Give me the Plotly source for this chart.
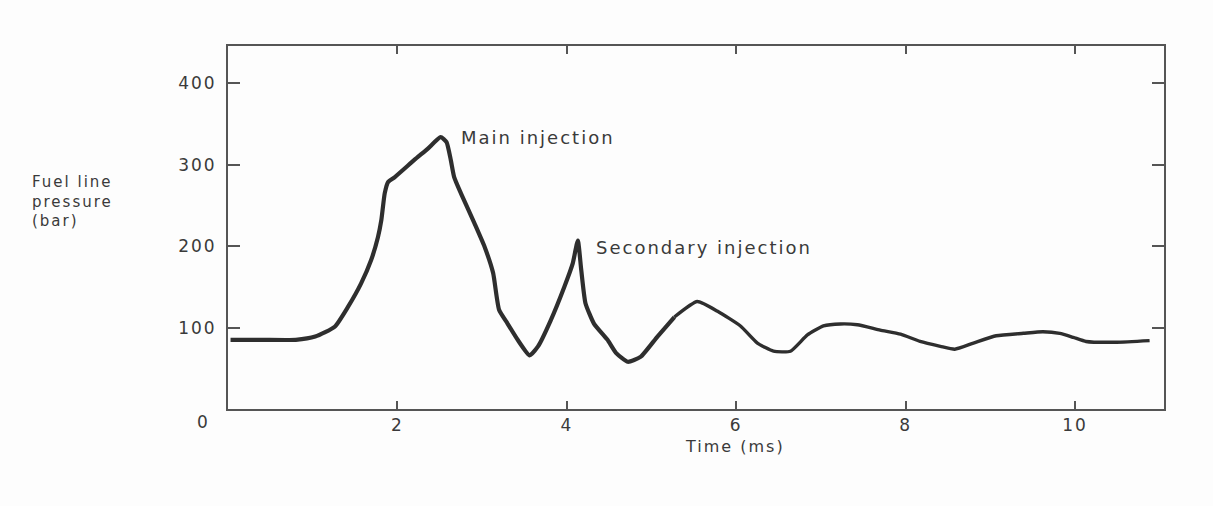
import plotly.graph_objects as go

# Fuel line pressure trace (time in ms, pressure in bar)
time_ms = [0.03, 0.4, 0.8, 1.03, 1.26, 1.42, 1.57, 1.69, 1.77, 1.81, 1.85, 1.89,
           1.97, 2.20, 2.36, 2.51, 2.58, 2.63, 2.67, 2.75, 2.91, 3.03, 3.13, 3.20,
           3.30, 3.42, 3.56, 3.66, 3.81, 3.97, 4.07, 4.13, 4.17, 4.22, 4.32, 4.48,
           4.58, 4.72, 4.87, 5.07, 5.27, 5.54, 5.78, 6.05, 6.25, 6.44, 6.64, 6.84,
           7.03, 7.23, 7.43, 7.70, 7.94, 8.17, 8.41, 8.58, 8.80, 9.07, 9.39, 9.62,
           9.82, 9.98, 10.13, 10.49, 10.88]
pressure_bar = [85, 85, 85, 89, 101, 126, 154, 183, 211, 232, 265, 279,
                285, 306, 320, 334, 328, 306, 285, 265, 228, 199, 167, 122,
                105, 85, 66, 77, 109, 150, 179, 207, 171, 130, 105, 85,
                69, 58, 64, 89, 113, 132, 120, 102, 81, 71, 71, 91,
                102, 104.5, 103.5, 97, 92, 83, 77, 73.5, 81, 90, 93, 95,
                93, 88, 83, 82, 84]

x_ticks = [2, 4, 6, 8, 10]
y_ticks = [100, 200, 300, 400]

# the heavy stroke covers the injection events, the lighter one the decay
split_at = time_ms.index(5.27)

FONT = "DejaVu Sans"
INK = "#3a3a3a"
LINE = "#2e2e2e"
TRACKING = 2  # px of extra letter spacing applied to all labels

fig = go.Figure()
fig.add_trace(go.Scatter(
    x=time_ms[:split_at + 1], y=pressure_bar[:split_at + 1], mode="lines",
    line=dict(color=LINE, width=4.2, shape="spline", smoothing=0.5),
    hoverinfo="skip", showlegend=False,
))
fig.add_trace(go.Scatter(
    x=time_ms[split_at:], y=pressure_bar[split_at:], mode="lines",
    line=dict(color=LINE, width=3.4, shape="spline", smoothing=0.5),
    hoverinfo="skip", showlegend=False,
))


def peak_label(x, y, text):
    # annotation text is centred in its box, so extra tracking widens it on
    # both sides; shift right by half the added width to keep the left edge
    fig.add_annotation(x=x, y=y, xref="x", yref="y", text=text,
                       showarrow=False, xanchor="left", yanchor="middle",
                       xshift=len(text) * TRACKING / 2,
                       font=dict(family=FONT, size=18, color=INK))


peak_label(2.73, 334, "Main injection")
peak_label(4.32, 199, "Secondary injection")

fig.add_annotation(x=5.98, y=0, xref="x", yref="paper", yshift=-37,
                   text="Time (ms)", showarrow=False, xanchor="center", yanchor="middle",
                   font=dict(family=FONT, size=16, color=INK))
fig.add_annotation(x=0, y=0, xref="paper", yref="paper", xshift=-25, yshift=-13,
                   text="0", showarrow=False, xanchor="center", yanchor="middle",
                   font=dict(family=FONT, size=17, color=INK))
fig.add_annotation(x=-0.2115, y=(409 - 201) / 363, xref="paper", yref="paper",
                   text="Fuel line<br>pressure<br>(bar)", showarrow=False,
                   xanchor="left", yanchor="middle", align="left",
                   font=dict(family=FONT, size=15, color=INK))

fig.update_layout(
    width=1213, height=506,
    margin=dict(l=228, r=49, t=46, b=97),
    paper_bgcolor="#fdfdfd", plot_bgcolor="#fdfdfd",
    font=dict(family=FONT, size=16, color=INK),
)
fig.update_xaxes(
    range=[0, 11.05], tickvals=x_ticks, ticks="inside", ticklen=8, tickwidth=2,
    tickcolor="#555", showline=True, linecolor="#555", linewidth=2, mirror="ticks",
    showgrid=False, zeroline=False, tickfont=dict(family=FONT, size=17, color=INK),
)
fig.update_yaxes(
    range=[0, 446], tickvals=y_ticks, ticks="inside", ticklen=12, tickwidth=2,
    tickcolor="#555", showline=True, linecolor="#555", linewidth=2, mirror="ticks",
    showgrid=False, zeroline=False, ticklabelstandoff=6,
    tickfont=dict(family=FONT, size=17, color=INK),
)

spacing_js = (
    "document.getElementById('{plot_id}').querySelectorAll('text')"
    ".forEach(function(t){t.style.letterSpacing='%dpx';});" % TRACKING
)
fig.write_html("out.html", post_script=spacing_js)
